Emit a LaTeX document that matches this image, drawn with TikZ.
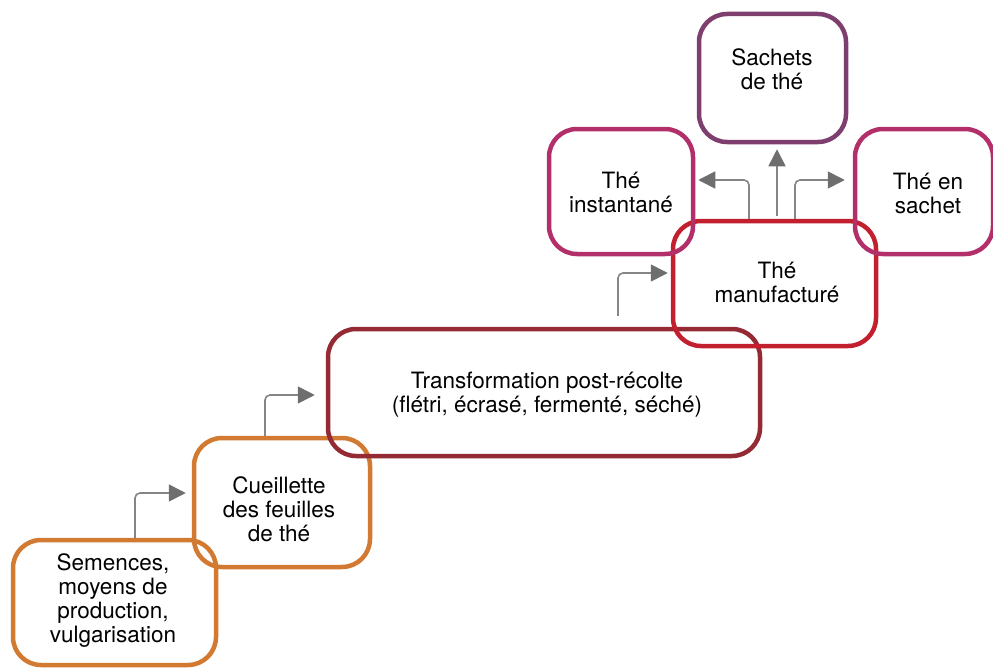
\documentclass[tikz,border=0pt]{standalone}
\usepackage{fontspec}
\setmainfont{TeX Gyre Heros}
\usetikzlibrary{arrows.meta,calc}
\definecolor{corange}{HTML}{D27A32}
\definecolor{cdarkred}{HTML}{932A34}
\definecolor{cred}{HTML}{C2202E}
\definecolor{cmagenta}{HTML}{B22F6A}
\definecolor{cpurple}{HTML}{7E3F6E}
\definecolor{linegray}{HTML}{858585}
\definecolor{tipgray}{HTML}{6E6E6E}
\begin{document}
\begin{tikzpicture}[x=1pt,y=-1pt,
  box/.style={draw, line width=4.5pt, rounded corners=28pt, inner sep=0pt},
  lbl/.style={align=center, font=\fontsize{22.5}{24}\selectfont, inner sep=0pt, text=black},
  arr/.style={draw=linegray, line width=1.6pt, rounded corners=5pt,
    -{Triangle[length=17pt,width=17pt,color=tipgray]}}]
\useasboundingbox (0,0) rectangle (993,669);

% boxes
\node[box, draw=corange, minimum width=203pt, minimum height=125pt] (semences) at (114.5,602.5) {};
\node[box, draw=corange, minimum width=176pt, minimum height=129pt] (cueillette) at (282,502.5) {};
\node[box, draw=cdarkred, minimum width=432pt, minimum height=127pt] (transformation) at (544,392.5) {};
\node[box, draw=cred, minimum width=203pt, minimum height=125pt] (manufacture) at (774.5,283.5) {};
\node[box, draw=cmagenta, minimum width=144pt, minimum height=125pt] (instantane) at (621,191.5) {};
\node[box, draw=cpurple, minimum width=147pt, minimum height=128pt] (sachets) at (772.5,78) {};
\node[box, draw=cmagenta, minimum width=138pt, minimum height=125pt] (ensachet) at (924,191.5) {};

% labels
\node[lbl] (semences-t) at (113,601) {Semences,\\moyens de\\production,\\vulgarisation};
\node[lbl] (cueillette-t) at (279,509) {Cueillette\\des feuilles\\de thé};
\node[lbl] (transformation-t) at (547,395) {Transformation post-récolte\\(flétri, écrasé, fermenté, séché)};
\node[lbl] (manufacture-t) at (777,282) {Thé\\manufacturé};
\node[lbl] (instantane-t) at (621,192) {Thé\\instantané};
\node[lbl] (sachets-t) at (772,69) {Sachets\\de thé};
\node[lbl] (ensachet-t) at (928,193) {Thé en\\sachet};

% connectors
\draw[arr, shorten >=6pt] ($(semences.north)+(20.5,0)$) |- ($(cueillette.west)+(0,-9.5)$);
\draw[arr, shorten >=11pt] ($(cueillette.north)+(-17,0)$) |- ($(transformation.west)+(0,2.5)$);
\coordinate (c3) at ($(transformation.north)+(74,-11)$);
\draw[arr, shorten >=3pt] (c3) |- ($(manufacture.west)+(0,-10.5)$);
\draw[arr, shorten >=3pt] ($(manufacture.north)+(-25.5,0)$) |- ($(instantane.east)+(0,-11.5)$);
\draw[arr, shorten >=5pt] ($(manufacture.north)+(2.5,-3)$) -- ($(sachets.south)+(4.5,0)$);
\draw[arr, shorten >=8pt] ($(manufacture.north)+(20.5,0)$) |- ($(ensachet.west)+(0,-11.5)$);
\end{tikzpicture}
\end{document}
